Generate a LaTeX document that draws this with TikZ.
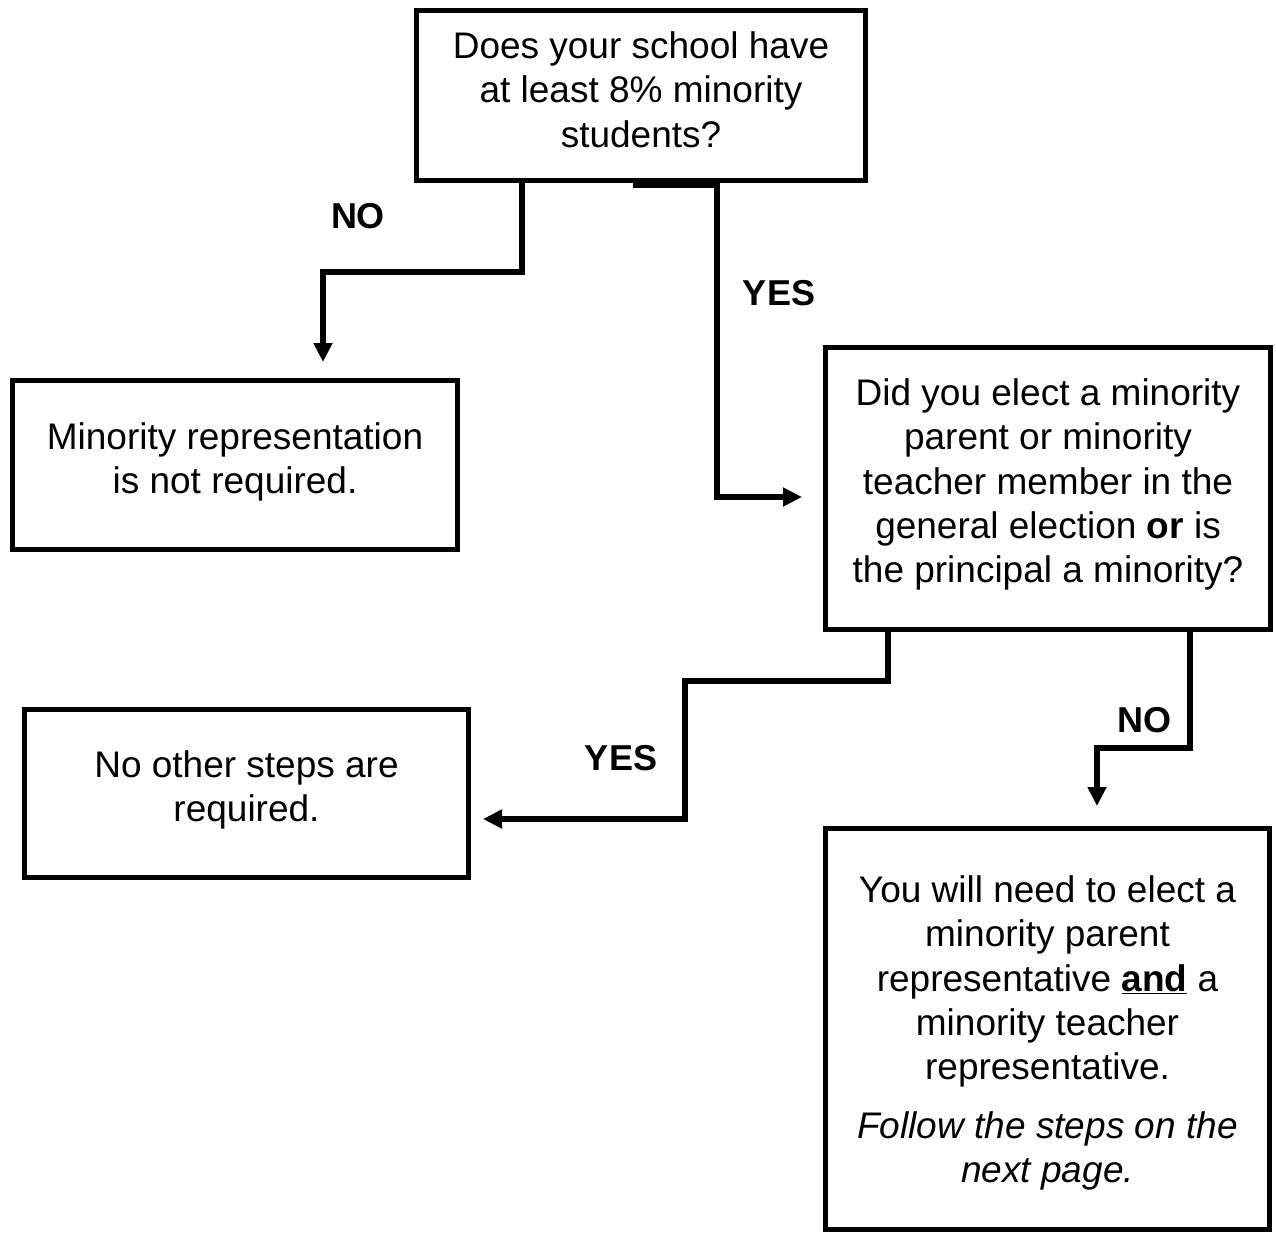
\documentclass[tikz,border=0pt]{standalone}
\usepackage{fontspec}
\setmainfont{Liberation Sans}
\usetikzlibrary{arrows.meta}
\begin{document}
\begin{tikzpicture}[x=1pt,y=-1pt,
  box/.style={draw,line width=5pt,inner sep=0pt},
  txt/.style={align=center,inner sep=0pt,font=\fontsize{37}{44.4}\selectfont},
  conn/.style={line width=6pt},
  arr/.style={conn,-{Triangle[length=19pt,width=18pt]}},
  lbl/.style={font=\fontsize{36}{43}\selectfont\bfseries,inner sep=0pt}]
\useasboundingbox (0,0) rectangle (1276,1234);
\node[box,minimum width=449pt,minimum height=170pt] (q1) at (641,95.5) {};
\node[txt] (q1t) at ([yshift=6pt]q1.center)
  {Does your school have\\at least 8\% minority\\students?};
\node[box,minimum width=445pt,minimum height=169pt] (notreq) at (235,465) {};
\node[txt] (notreqt) at ([yshift=3pt]notreq.center)
  {Minority representation\\is not required.};
\node[box,minimum width=445pt,minimum height=282pt] (q2) at (1048,488.5) {};
\node[txt] (q2t) at ([yshift=4pt]q2.center)
  {Did you elect a minority\\parent or minority\\teacher member in the\\general election \textbf{or} is\\the principal a minority?};
\node[box,minimum width=444pt,minimum height=168pt] (nosteps) at (246.5,793.5) {};
\node[txt] (nostepst) at ([yshift=3.5pt]nosteps.center)
  {No other steps are\\required.};
\node[box,minimum width=444pt,minimum height=401pt] (elect) at (1047.5,1029) {};
\node[txt] (electt) at ([yshift=-4pt]elect.center)
  {You will need to elect a\\minority parent\\representative \underline{\textbf{and}} a\\minority teacher\\representative.\\[14pt]\textit{Follow the steps on the}\\\textit{next page.}};
\coordinate (a1) at (323,362);
\coordinate (a2) at (802,497);
\coordinate (a3) at (483,819);
\coordinate (a4) at (1097,806);
\draw[arr] (q1.south -| 522,0) |- (323,272) -- (a1);
\draw[arr] (q1.south -| 633,0) ++(0,1.5) -| (717,497) -- (a2);
\draw[arr] (q2.south -| 888,0) |- (685,681) |- (a3);
\draw[arr] (q2.south -| 1190,0) |- (1097,748) -- (a4);
\node[lbl] (l1) at (358,216) {NO};
\node[lbl] (l2) at (779,293) {YES};
\node[lbl] (l3) at (621,758) {YES};
\node[lbl] (l4) at (1144,720) {NO};
\end{tikzpicture}
\end{document}
